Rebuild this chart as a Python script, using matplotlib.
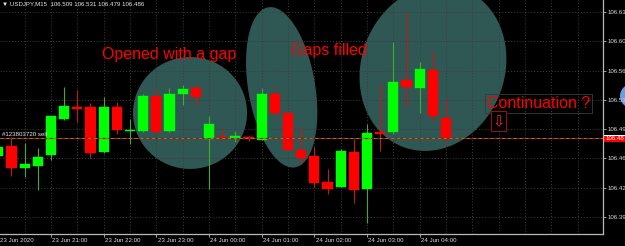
import numpy as np
import matplotlib
matplotlib.use("Agg")
import matplotlib.pyplot as plt
from matplotlib.patches import Polygon, Ellipse, Rectangle

# ---------------- data ----------------
header_text = "USDJPY,M15  106.509 106.531 106.479 106.486"
candle_open = [106.464, 106.476, 106.450, 106.453, 106.466, 106.508, 106.522, 106.522, 106.469, 106.522,
               106.494, 106.494, 106.535, 106.494, 106.538, 106.544, 106.484, 106.487, 106.486, 106.487,
               106.483, 106.538, 106.515, 106.4715, 106.464, 106.434, 106.428, 106.4695, 106.426, 106.493,
               106.493, 106.554, 106.545, 106.566, 106.509]
candle_high = [106.476, 106.487, 106.480, 106.474, 106.512, 106.546, 106.542, 106.527, 106.534, 106.528,
               106.508, 106.537, 106.544, 106.545, 106.548, 106.549, 106.511, 106.496, 106.494, 106.488,
               106.544, 106.544, 106.515, 106.499, 106.475, 106.449, 106.473, 106.485, 106.502, 106.549,
               106.599, 106.634, 106.5755, 106.588, 106.531]
candle_low = [106.463, 106.441, 106.440, 106.424, 106.460, 106.507, 106.504, 106.462, 106.468, 106.490,
              106.479, 106.493, 106.492, 106.493, 106.525, 106.523, 106.425, 106.483, 106.481, 106.4825,
              106.483, 106.510, 106.471, 106.455, 106.428, 106.420, 106.428, 106.4095, 106.385, 106.470,
              106.490, 106.5225, 106.515, 106.505, 106.479]
candle_close = [106.475, 106.450, 106.455, 106.463, 106.512, 106.523, 106.520, 106.468, 106.522, 106.495,
                106.495, 106.535, 106.493, 106.537, 106.543, 106.534, 106.502, 106.486, 106.4875, 106.485,
                106.537, 106.515, 106.471, 106.462, 106.433, 106.426, 106.470, 106.424, 106.4915, 106.490,
                106.552, 106.546, 106.567, 106.512, 106.486]
hour_label_idx = [0, 4, 8, 12, 16, 20, 24, 28, 32]
hour_labels = ["23 Jun 2020", "23 Jun 21:00", "23 Jun 22:00", "23 Jun 23:00", "24 Jun 00:00",
               "24 Jun 01:00", "24 Jun 02:00", "24 Jun 03:00", "24 Jun 04:00"]
price_ticks = [106.634, 106.5995, 106.565, 106.5305, 106.496, 106.4615, 106.427, 106.3925]
price_tick_labels = ["106.63", "106.60", "106.56", "106.53", "106.49", "106.46", "106.42", "106.39"]
last_price = 106.486
last_price_label = "106.48"
order_price = 106.4855
order_label = "#123803720 sell"

# annotation shapes: centre (bar index, price) and two half-axis vectors (index, price)
ellipses = [
    dict(c=(14.56, 106.5151), u=(4.33, 0.0), v=(0.0, 0.0659)),
    dict(c=(21.52, 106.5453), u=(1.025, -0.0942), v=(2.506, 0.0066)),
    dict(c=(33.01, 106.5681), u=(5.544, 0.0), v=(0.608, 0.0977)),
]
notes = [("Opened with a gap", 7.87, 106.5787),
         ("Gaps filled", 22.23, 106.5834),
         ("Continuation ?", 37.11, 106.521)]
arrow_box = (37.42, 106.4942, 1.11, 0.0229)   # x0, y0, width, height (index, price)
arrow_pos = (37.97, 106.5045)

# ---------------- figure ----------------
W, H = 625, 246
fig = plt.figure(figsize=(W / 100, H / 100), dpi=100, facecolor="black")
ax = fig.add_axes([0, 12 / H, 603 / W, 234 / H], facecolor="black")
ax.set_xlim(0.127, 45.923)
ax.set_ylim(106.3726, 106.6481)

small_font = ["Liberation Sans", "DejaVu Sans"]
fs_small = 4.4

# ellipses
t = np.linspace(0, 2 * np.pi, 300)
for e in ellipses:
    cx, cy = e["c"]
    ux, uy = e["u"]
    vx, vy = e["v"]
    pts = np.column_stack([cx + np.cos(t) * ux + np.sin(t) * vx,
                           cy + np.cos(t) * uy + np.sin(t) * vy])
    ax.add_patch(Polygon(pts, closed=True, facecolor="#2f5753", edgecolor="none", zorder=1))

# grid
grid_x = np.arange(0, 48, 2)
for gx in grid_x:
    ax.axvline(gx, color="#3e3e3e", lw=0.7, ls=(0, (1, 2)), zorder=2)
for gy in price_ticks:
    ax.axhline(gy, color="#3e3e3e", lw=0.7, ls=(0, (1, 2)), zorder=2)

# candles
o = np.array(candle_open)
h = np.array(candle_high)
l = np.array(candle_low)
c = np.array(candle_close)
x = np.arange(len(o))
up = c >= o
body_col = np.where(up, "#00ff00", "#ff0000")
wick_col = np.where(up, "#3fae2a", "#c21a1a")
ax.vlines(x, l, h, colors=wick_col, lw=0.8, zorder=3)
body_h = np.maximum(np.abs(c - o), 0.0012)
ax.bar(x, body_h, bottom=np.minimum(o, c), width=0.78, color=body_col,
       edgecolor=body_col, linewidth=0.3, zorder=4)

# order / bid lines
ax.axhline(order_price, color="#b01010", lw=0.8, zorder=5)
ax.axhline(last_price, color="#7d8a2a", lw=0.7, ls=(0, (3, 3)), zorder=5)
ax.text(0.27, order_price + 0.0012, order_label, color="#e8e8e8",
        fontsize=fs_small, family=small_font, ha="left", va="bottom", zorder=6)

# notes
for txt, nx, ny in notes:
    kw = {}
    if txt.startswith("Continuation"):
        kw["bbox"] = dict(boxstyle="square,pad=0.12", facecolor="none", edgecolor="#3a3a3a", lw=0.6)
    ax.text(nx, ny, txt, color="#ff0000", fontsize=11.5, family=["Liberation Sans"],
            ha="left", va="baseline", zorder=7, **kw)
bx, by, bw, bh = arrow_box
ax.add_patch(Rectangle((bx, by), bw, bh, facecolor="black", edgecolor="#a01010", lw=0.7, zorder=7))
ax.text(arrow_pos[0], arrow_pos[1], "\u21e9", color="#ff2020", fontsize=10.5, family=["DejaVu Sans"],
        ha="center", va="center", zorder=8)

# axes styling
for s in ["top", "left"]:
    ax.spines[s].set_visible(False)
for s in ["right", "bottom"]:
    ax.spines[s].set_color("#b8b8b8")
    ax.spines[s].set_linewidth(0.9)
ax.yaxis.tick_right()
ax.set_yticks(price_ticks)
ax.set_yticklabels(price_tick_labels, family=small_font)
ax.tick_params(axis="y", colors="#b8b8b8", labelcolor="#d8d8d8", length=2, width=0.6,
               labelsize=fs_small, pad=1)
ax.set_xticks([i for i in hour_label_idx if i > 0.127])
ax.set_xticklabels([])
ax.tick_params(axis="x", colors="#b8b8b8", length=2, width=0.6)
for i, lab in zip(hour_label_idx, hour_labels):
    ax.text(i + 0.1, -6 / 234, lab, transform=ax.get_xaxis_transform(), color="#d8d8d8",
            fontsize=fs_small, family=small_font, ha="left", va="center", clip_on=False)

# current price label (box behind the text)
fig.patches.append(Rectangle((604 / W, 1 - 142 / H), 21 / W, 6.5 / H, transform=fig.transFigure,
                             facecolor="#ff0000", edgecolor="none", zorder=-1))
fig.patches.append(Rectangle((604 / W, 1 - 135.5 / H), 21 / W, 0.8 / H, transform=fig.transFigure,
                             facecolor="white", edgecolor="none", zorder=-1))
ax.text(1.005, last_price - 0.0008, last_price_label, transform=ax.get_yaxis_transform(), color="white",
        fontsize=fs_small, family=small_font, ha="left", va="center", clip_on=False, zorder=8)

# header
fig.text(2 / W, 1 - 4 / H, "\u25bc " + header_text, color="#e8e8e8", fontsize=fs_small,
         family=small_font, ha="left", va="center")

# partial blue round button at right edge
fig.patches.append(Ellipse((632 / W, 1 - 96 / H), 24 / W, 24 / H, transform=fig.transFigure,
                           facecolor="#6e9be0", edgecolor="none", zorder=-1))

fig.savefig("out.png", dpi=100, facecolor="black")
